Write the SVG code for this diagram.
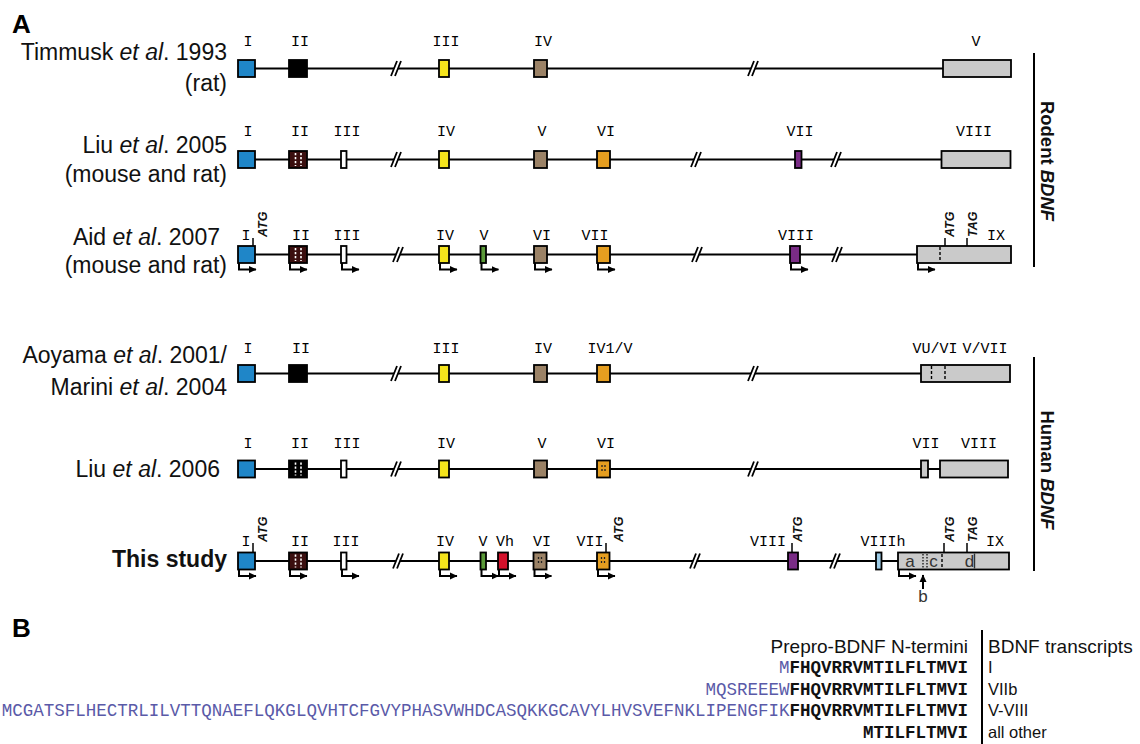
<svg xmlns="http://www.w3.org/2000/svg" width="1140" height="744" viewBox="0 0 1140 744">
<defs>
<style>
.ln{stroke:#000;stroke-width:2.2;fill:none}
.ex{stroke:#000;stroke-width:1.8}
.b{fill:#1f86c8}.k{fill:#000}.y{fill:#f4e41c}.br{fill:#9b8266}.o{fill:#e59e20}.p{fill:#7a2c86}.g{fill:#cacaca}.w{fill:#fff}.m{fill:#3b0f0f}.gr{fill:#5a9a38}.r{fill:#d3112b}.lb{fill:#9dcbe6}
.wd{stroke:#fff;stroke-width:1.6;stroke-dasharray:2.2 1.8}
.kd{stroke:#222;stroke-width:1.3;stroke-dasharray:2 2}
.dash{stroke:#000;stroke-width:1.4;stroke-dasharray:3 2}
.dot{stroke:#000;stroke-width:1.2;stroke-dasharray:1.5 1.5}
.lab{font-family:"Liberation Mono","DejaVu Sans Mono",monospace;font-size:15px;text-anchor:middle;fill:#000}
.name{font-family:"Liberation Sans",Arial,sans-serif;font-size:23px;text-anchor:end;fill:#111}
.atg{font-family:"Liberation Sans",Arial,sans-serif;font-size:12.5px;font-style:italic;font-weight:bold;fill:#111}
.abc{font-family:"Liberation Sans",Arial,sans-serif;font-size:17px;text-anchor:middle;fill:#333}
.tick{stroke:#000;stroke-width:1.5}
.pr{stroke:#000;stroke-width:2;fill:none;marker-end:url(#ah)}
.side{font-family:"Liberation Sans",Arial,sans-serif;font-size:18.5px;font-weight:bold;text-anchor:middle;fill:#111}
.panel{font-family:"Liberation Sans",Arial,sans-serif;font-size:26px;font-weight:bold;fill:#000}
.seq{font-family:"Liberation Mono","DejaVu Sans Mono",monospace;font-size:17.5px;text-anchor:end;fill:#5a5aa8}
.sb{font-weight:bold;fill:#111}
.hd{font-family:"Liberation Sans",Arial,sans-serif;font-size:19px;fill:#111}
.tr{font-family:"Liberation Sans",Arial,sans-serif;font-size:16.5px;fill:#111}
</style>
<marker id="ah" markerWidth="8" markerHeight="8" refX="7" refY="4" orient="auto" markerUnits="userSpaceOnUse"><path d="M0,0.5 L7.5,4 L0,7.5 z" fill="#000"/></marker>
<g id="brk"><polygon points="-5,7.5 1,-7.5 5,-7.5 -1,7.5" fill="#fff"/><line x1="-5" y1="7.5" x2="1" y2="-7.5" stroke="#000" stroke-width="1.8"/><line x1="-1" y1="7.5" x2="5" y2="-7.5" stroke="#000" stroke-width="1.8"/></g>
</defs>
<rect width="1140" height="744" fill="#fff"/>

<text class="panel" x="12" y="33">A</text>
<text class="panel" x="12" y="637">B</text>

<!-- connectors: gene lines, breaks, promoter arrows -->
<g id="connectors">
  <line class="ln" x1="246" y1="68.5" x2="960" y2="68.5"/>
  <line class="ln" x1="246" y1="159.5" x2="960" y2="159.5"/>
  <line class="ln" x1="246" y1="254.5" x2="940" y2="254.5"/>
  <line class="ln" x1="246" y1="373.5" x2="940" y2="373.5"/>
  <line class="ln" x1="246" y1="469" x2="960" y2="469"/>
  <line class="ln" x1="246" y1="561" x2="920" y2="561"/>
  <use href="#brk" x="396" y="68.5"/><use href="#brk" x="753" y="68.5"/>
  <use href="#brk" x="396" y="159.5"/><use href="#brk" x="696" y="159.5"/><use href="#brk" x="836" y="159.5"/>
  <use href="#brk" x="398" y="254.5"/><use href="#brk" x="697" y="254.5"/><use href="#brk" x="837" y="254.5"/>
  <use href="#brk" x="396" y="373.5"/><use href="#brk" x="753" y="373.5"/>
  <use href="#brk" x="396" y="469"/><use href="#brk" x="753" y="469"/>
  <use href="#brk" x="398" y="561"/><use href="#brk" x="695" y="561"/><use href="#brk" x="835" y="561"/>
  <!-- promoters row 3 -->
  <path class="pr" d="M239,263 V269.5 H256"/>
  <path class="pr" d="M290,263 V269.5 H307"/>
  <path class="pr" d="M342,263 V269.5 H359"/>
  <path class="pr" d="M440,263 V269.5 H457"/>
  <path class="pr" d="M481.5,263 V269.5 H498.5"/>
  <path class="pr" d="M535,263 V269.5 H552"/>
  <path class="pr" d="M598,263 V269.5 H615"/>
  <path class="pr" d="M791,263 V269.5 H808"/>
  <path class="pr" d="M918,263 V269.5 H935"/>
  <!-- promoters row 6 -->
  <path class="pr" d="M239,569.5 V576 H256"/>
  <path class="pr" d="M290,569.5 V576 H307"/>
  <path class="pr" d="M342,569.5 V576 H359"/>
  <path class="pr" d="M440,569.5 V576 H457"/>
  <path class="pr" d="M481.5,569.5 V576 H498.5"/>
  <path class="pr" d="M499,569.5 V576 H516"/>
  <path class="pr" d="M534.5,569.5 V576 H551.5"/>
  <path class="pr" d="M598,569.5 V576 H615"/>
  <path class="pr" d="M899,569.5 V576 H916"/>
  <path class="pr" d="M923,589 V575"/>
</g>

<!-- Row 1: Timmusk -->
<g id="row1">
  <text class="name" x="227" y="60">Timmusk <tspan font-style="italic">et al</tspan>. 1993</text>
  <text class="name" x="227" y="91">(rat)</text>
  <rect id="r1-I" class="ex b" x="238" y="60" width="17" height="17"/>
  <rect id="r1-II" class="ex k" x="289" y="60" width="18" height="17"/>
  <rect id="r1-III" class="ex y" x="439" y="60" width="10" height="17"/>
  <rect id="r1-IV" class="ex br" x="534" y="60" width="13" height="17"/>
  <rect id="r1-V" class="ex g" x="943" y="60" width="68" height="17"/>
  <text class="lab" x="248" y="46">I</text><text class="lab" x="300" y="46">II</text><text class="lab" x="446" y="46">III</text><text class="lab" x="543" y="46">IV</text><text class="lab" x="976" y="46">V</text>
</g>

<!-- Row 2: Liu 2005 -->
<g id="row2">
  <text class="name" x="227" y="153">Liu <tspan font-style="italic">et al</tspan>. 2005</text>
  <text class="name" x="227" y="182">(mouse and rat)</text>
  <rect id="r2-I" class="ex b" x="238" y="151" width="17" height="17"/>
  <g id="r2-II"><rect class="ex m" x="289" y="151" width="18" height="17"/><line class="wd" x1="295.5" y1="153" x2="295.5" y2="166"/><line class="wd" x1="301" y1="153" x2="301" y2="166"/></g>
  <rect id="r2-III" class="ex w" x="341" y="151" width="5.5" height="17"/>
  <rect id="r2-IV" class="ex y" x="439" y="151" width="10" height="17"/>
  <rect id="r2-V" class="ex br" x="534" y="151" width="13" height="17"/>
  <rect id="r2-VI" class="ex o" x="597" y="151" width="13" height="17"/>
  <rect id="r2-VII" class="ex p" x="795" y="151" width="6.5" height="17"/>
  <rect id="r2-VIII" class="ex g" x="941.5" y="151" width="69" height="17"/>
  <text class="lab" x="248" y="136">I</text><text class="lab" x="300" y="136">II</text><text class="lab" x="347" y="136">III</text><text class="lab" x="446" y="136">IV</text><text class="lab" x="542" y="136">V</text><text class="lab" x="606" y="136">VI</text><text class="lab" x="800" y="136">VII</text><text class="lab" x="974" y="136">VIII</text>
</g>

<!-- Row 3: Aid 2007 -->
<g id="row3">
  <text class="name" x="220" y="245">Aid <tspan font-style="italic">et al</tspan>. 2007</text>
  <text class="name" x="227" y="273">(mouse and rat)</text>
  <rect id="r3-I" class="ex b" x="238" y="246" width="17" height="17"/>
  <g id="r3-II"><rect class="ex m" x="289" y="246" width="18" height="17"/><line class="wd" x1="295.5" y1="248" x2="295.5" y2="261"/><line class="wd" x1="301" y1="248" x2="301" y2="261"/></g>
  <rect id="r3-III" class="ex w" x="341" y="246" width="5.5" height="17"/>
  <rect id="r3-IV" class="ex y" x="439" y="246" width="10" height="17"/>
  <rect id="r3-V" class="ex gr" x="480.5" y="246" width="5.5" height="17"/>
  <rect id="r3-VI" class="ex br" x="534" y="246" width="13" height="17"/>
  <rect id="r3-VII" class="ex o" x="597" y="246" width="13" height="17"/>
  <rect id="r3-VIII" class="ex p" x="790" y="246" width="10" height="17"/>
  <g id="r3-IX"><rect class="ex g" x="917" y="246" width="94" height="17"/><line class="dash" x1="940" y1="247" x2="940" y2="262"/></g>
  <line class="tick" x1="253" y1="238" x2="253" y2="246"/>
  <line class="tick" x1="945" y1="238" x2="945" y2="246"/>
  <line class="tick" x1="967" y1="238" x2="967" y2="246"/>
  <text class="atg" transform="translate(267,237) rotate(-90)">ATG</text>
  <text class="atg" transform="translate(954,237) rotate(-90)">ATG</text>
  <text class="atg" transform="translate(977,237) rotate(-90)">TAG</text>
  <text class="lab" x="246" y="240">I</text><text class="lab" x="301" y="240">II</text><text class="lab" x="347" y="240">III</text><text class="lab" x="445" y="240">IV</text><text class="lab" x="484" y="240">V</text><text class="lab" x="542" y="240">VI</text><text class="lab" x="595" y="240">VII</text><text class="lab" x="796" y="240">VIII</text><text class="lab" x="996" y="240">IX</text>
</g>

<!-- Row 4: Aoyama / Marini -->
<g id="row4">
  <text class="name" x="227" y="363">Aoyama <tspan font-style="italic">et al</tspan>. 2001/</text>
  <text class="name" x="227" y="395">Marini <tspan font-style="italic">et al</tspan>. 2004</text>
  <rect id="r4-I" class="ex b" x="238" y="365" width="17" height="17"/>
  <rect id="r4-II" class="ex k" x="289" y="365" width="18" height="17"/>
  <rect id="r4-III" class="ex y" x="439" y="365" width="10" height="17"/>
  <rect id="r4-IV" class="ex br" x="534" y="365" width="13" height="17"/>
  <rect id="r4-IV1V" class="ex o" x="597" y="365" width="13" height="17"/>
  <g id="r4-last"><rect class="ex g" x="921" y="365" width="89" height="17"/><line class="dash" x1="931.5" y1="366" x2="931.5" y2="381"/><line class="dash" x1="945" y1="366" x2="945" y2="381"/></g>
  <text class="lab" x="248" y="353">I</text><text class="lab" x="301" y="353">II</text><text class="lab" x="446" y="353">III</text><text class="lab" x="543" y="353">IV</text><text class="lab" x="610" y="353">IV1/V</text><text class="lab" x="935" y="353">VU/VI</text><text class="lab" x="985" y="353">V/VII</text>
</g>

<!-- Row 5: Liu 2006 -->
<g id="row5">
  <text class="name" x="220" y="477">Liu <tspan font-style="italic">et al</tspan>. 2006</text>
  <rect id="r5-I" class="ex b" x="238" y="460.5" width="17" height="17"/>
  <g id="r5-II"><rect class="ex k" x="289" y="460.5" width="18" height="17"/><line class="wd" x1="295.5" y1="462.5" x2="295.5" y2="475.5"/><line class="wd" x1="301" y1="462.5" x2="301" y2="475.5"/></g>
  <rect id="r5-III" class="ex w" x="341" y="460.5" width="5.5" height="17"/>
  <rect id="r5-IV" class="ex y" x="439" y="460.5" width="10" height="17"/>
  <rect id="r5-V" class="ex br" x="534" y="460.5" width="13" height="17"/>
  <g id="r5-VI"><rect class="ex o" x="597" y="460.5" width="13" height="17"/><line class="kd" x1="602" y1="465" x2="602" y2="473"/><line class="kd" x1="605" y1="465" x2="605" y2="473"/></g>
  <rect id="r5-VII" class="ex g" x="921" y="460.5" width="7" height="17"/>
  <rect id="r5-VIII" class="ex g" x="940" y="460.5" width="68" height="17"/>
  <text class="lab" x="248" y="448">I</text><text class="lab" x="300" y="448">II</text><text class="lab" x="347" y="448">III</text><text class="lab" x="446" y="448">IV</text><text class="lab" x="542" y="448">V</text><text class="lab" x="606" y="448">VI</text><text class="lab" x="926" y="448">VII</text><text class="lab" x="979" y="448">VIII</text>
</g>

<!-- Row 6: This study -->
<g id="row6">
  <text class="name" x="227" y="567" font-weight="bold">This study</text>
  <rect id="r6-I" class="ex b" x="238" y="552.5" width="17" height="17"/>
  <g id="r6-II"><rect class="ex m" x="289" y="552.5" width="18" height="17"/><line class="wd" x1="295.5" y1="554.5" x2="295.5" y2="567.5"/><line class="wd" x1="301" y1="554.5" x2="301" y2="567.5"/></g>
  <rect id="r6-III" class="ex w" x="341" y="552.5" width="5.5" height="17"/>
  <rect id="r6-IV" class="ex y" x="439" y="552.5" width="10" height="17"/>
  <rect id="r6-V" class="ex gr" x="480.5" y="552.5" width="5.5" height="17"/>
  <rect id="r6-Vh" class="ex r" x="498" y="552.5" width="10" height="17"/>
  <g id="r6-VI"><rect class="ex br" x="533.5" y="552.5" width="13" height="17"/><line class="kd" x1="538.5" y1="557" x2="538.5" y2="565"/><line class="kd" x1="541.5" y1="557" x2="541.5" y2="565"/></g>
  <g id="r6-VII"><rect class="ex o" x="597" y="552.5" width="12.5" height="17"/><line class="kd" x1="601.5" y1="557" x2="601.5" y2="565"/><line class="kd" x1="604.5" y1="557" x2="604.5" y2="565"/></g>
  <rect id="r6-VIII" class="ex p" x="788" y="552.5" width="10" height="17"/>
  <rect id="r6-VIIIh" class="ex lb" x="876" y="552.5" width="5.5" height="17"/>
  <g id="r6-IX">
    <rect class="ex g" x="898" y="552.5" width="111" height="17"/>
    <line class="dot" x1="923" y1="554" x2="923" y2="568"/>
    <line class="dot" x1="927" y1="554" x2="927" y2="568"/>
    <line class="dash" x1="942" y1="554" x2="942" y2="568"/>
    <line x1="974.5" y1="553.5" x2="974.5" y2="568.5" stroke="#333" stroke-width="1.4"/>
    <text class="abc" x="910" y="567">a</text>
    <text class="abc" x="933.5" y="567">c</text>
    <text class="abc" x="969.5" y="567">d</text>
  </g>
  <line class="tick" x1="253" y1="543" x2="253" y2="552.5"/>
  <line class="tick" x1="606" y1="543" x2="606" y2="552.5"/>
  <line class="tick" x1="792" y1="543" x2="792" y2="552.5"/>
  <line class="tick" x1="944" y1="543" x2="944" y2="552.5"/>
  <line class="tick" x1="967" y1="543" x2="967" y2="552.5"/>
  <text class="atg" transform="translate(267,542) rotate(-90)">ATG</text>
  <text class="atg" transform="translate(623,542) rotate(-90)">ATG</text>
  <text class="atg" transform="translate(802,542) rotate(-90)">ATG</text>
  <text class="atg" transform="translate(954,542) rotate(-90)">ATG</text>
  <text class="atg" transform="translate(977,542) rotate(-90)">TAG</text>
  <text class="lab" x="246" y="546">I</text><text class="lab" x="300" y="546">II</text><text class="lab" x="346" y="546">III</text><text class="lab" x="445" y="546">IV</text><text class="lab" x="483" y="546">V</text><text class="lab" x="505" y="546">Vh</text><text class="lab" x="542" y="546">VI</text><text class="lab" x="590" y="546">VII</text><text class="lab" x="768" y="546">VIII</text><text class="lab" x="883" y="546">VIIIh</text><text class="lab" x="995" y="546">IX</text>
  <text class="abc" x="923" y="602">b</text>
</g>

<!-- side brackets -->
<g id="rodent">
  <line x1="1034" y1="53" x2="1034" y2="267" stroke="#000" stroke-width="2"/>
  <text class="side" transform="translate(1041,161) rotate(90)">Rodent <tspan font-style="italic">BDNF</tspan></text>
</g>
<g id="human">
  <line x1="1034" y1="357" x2="1034" y2="571" stroke="#000" stroke-width="2"/>
  <text class="side" transform="translate(1041,470) rotate(90)">Human <tspan font-style="italic">BDNF</tspan></text>
</g>

<!-- Panel B -->
<g id="panelB">
  <text class="hd" x="968" y="653" text-anchor="end">Prepro-BDNF N-termini</text>
  <text class="hd" x="988" y="653">BDNF transcripts</text>
  <line x1="982" y1="630" x2="982" y2="744" stroke="#000" stroke-width="2"/>
  <text class="seq" x="968" y="673">M<tspan class="sb">FHQVRRVMTILFLTMVI</tspan></text>
  <text class="seq" x="968" y="695">MQSREEEW<tspan class="sb">FHQVRRVMTILFLTMVI</tspan></text>
  <text class="seq" x="968" y="716">MCGATSFLHECTRLILVTTQNAEFLQKGLQVHTCFGVYPHASVWHDCASQKKGCAVYLHVSVEFNKLIPENGFIK<tspan class="sb">FHQVRRVMTILFLTMVI</tspan></text>
  <text class="seq" x="968" y="738"><tspan class="sb">MTILFLTMVI</tspan></text>
  <text class="tr" x="988" y="673">I</text>
  <text class="tr" x="988" y="695">VIIb</text>
  <text class="tr" x="988" y="716">V-VIII</text>
  <text class="tr" x="988" y="738">all other</text>
</g>
</svg>
